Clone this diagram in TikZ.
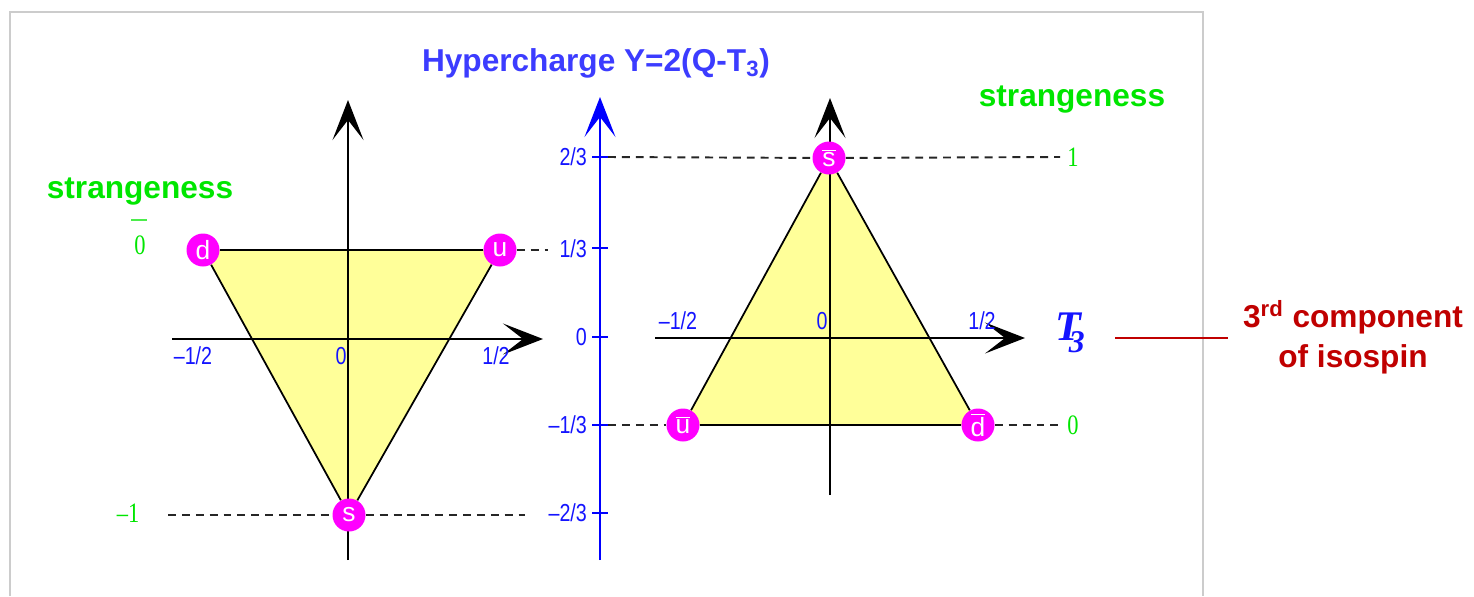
\documentclass[tikz,border=0pt]{standalone}
\usepackage{fontspec}
\setmainfont{Liberation Sans}
\newfontfamily\numfont{Liberation Serif}
\usepackage{tikz}
\usetikzlibrary{arrows.meta, backgrounds}
\definecolor{qmag}{RGB}{255,0,255}
\definecolor{tri}{RGB}{255,255,153}
\definecolor{hblue}{RGB}{60,60,255}
\definecolor{tblue}{RGB}{20,20,255}
\definecolor{sgreen}{RGB}{0,230,0}
\definecolor{isored}{RGB}{192,0,0}
\newcommand\nar[1]{\scalebox{0.8}[1]{#1}}
\newcommand\qbar[1]{$\overline{\mbox{#1}}$}

\begin{document}
\begin{tikzpicture}[x=0.02cm, y=-0.02cm,
    q/.style={circle, fill=qmag, text=white, minimum size=0.66cm, inner sep=0pt,
      font=\fontsize{15}{15}\selectfont},
    ax/.style={line width=1pt, -{Stealth[length=0.8cm, width=0.62cm, inset=0.4cm]}},
    edge/.style={line width=1pt},
    dsh/.style={line width=1.1pt, dash pattern=on 4.5pt off 3.4pt, black!85},
    tl/.style={text=tblue, font=\fontsize{14}{14}\selectfont, inner sep=1pt},
    gl/.style={text=sgreen, font=\numfont\fontsize{16}{16}\selectfont, inner sep=1pt},
    big/.style={font=\fontsize{18}{20}\selectfont\bfseries, inner sep=0pt}]
  \useasboundingbox (0,0) rectangle (1474,596);
  % frame
  \draw[black!20, line width=1.4pt] (10,596) -- (10,12) -- (1203,12) -- (1203,596);

  % quarks
  \node[q] (d) at (203,250) {d};
  \node[q] (u) at (500,250) {u};
  \node[q] (s) at (349,515) {s};
  % antiquarks
  \node[q] (sb) at (829,158) {\qbar{s}};
  \node[q] (ub) at (683,425) {\qbar{u}};
  \node[q] (db) at (978,425) {\qbar{d}};

  % axis ends
  \coordinate (lyb) at (348,560); \coordinate (lyt) at (348,100);
  \coordinate (lxl) at (172,339); \coordinate (lxr) at (543,339);
  \coordinate (myb) at (600,560); \coordinate (myt) at (600,97);
  \coordinate (ryb) at (830,495); \coordinate (ryt) at (830,98);
  \coordinate (rxl) at (655,338); \coordinate (rxr) at (1025,338);
  \coordinate (ud) at (548,250);
  \coordinate (sl) at (168,515); \coordinate (sr) at (525,515);
  \coordinate (t23) at (608,157); \coordinate (e23) at (1060,157);
  \coordinate (t13) at (608,425); \coordinate (e13) at (1058,425);

  \begin{scope}[on background layer]
    \fill[tri] (d.center) -- (u.center) -- (s.center) -- cycle;
    \fill[tri] (sb.center) -- (db.center) -- (ub.center) -- cycle;
    \draw[ax] (lyb) -- (lyt);
    \draw[ax] (lxl) -- (lxr);
    \draw[ax] (ryb) -- (ryt);
    \draw[ax] (rxl) -- (rxr);
    \draw[ax, blue, line width=1.3pt] (myb) -- (myt);
    \foreach \y in {157,248,337,425,513}
      \draw[blue, line width=1.2pt] (592,\y) -- (608,\y);
    \draw[edge] (d) -- (u) -- (s) -- (d);
    \draw[edge] (sb) -- (db) -- (ub) -- (sb);
  \end{scope}

  % dashed guides
  \draw[dsh] (u) -- (ud);
  \draw[dsh] (sl) -- (s) -- (sr);
  \draw[dsh] (t23) -- (sb) -- (e23);
  \draw[dsh] (t13) -- (ub);
  \draw[dsh] (db) -- (e13);

  % left tick labels
  \node[tl] (lm) at (193,356) {\nar{–1/2}};
  \node[tl] (l0) at (341,356) {\nar{0}};
  \node[tl] (lp) at (496,356) {\nar{1/2}};
  % right tick labels
  \node[tl] (rm) at (678,321) {\nar{–1/2}};
  \node[tl] (r0) at (822,321) {\nar{0}};
  \node[tl] (rp) at (982,321) {\nar{1/2}};
  % hypercharge labels
  \node[tl, anchor=east] (h1) at (589,157) {\nar{2/3}};
  \node[tl, anchor=east] (h2) at (589,249) {\nar{1/3}};
  \node[tl, anchor=east] (h3) at (589,337) {\nar{0}};
  \node[tl, anchor=east] (h4) at (589,425) {\nar{–1/3}};
  \node[tl, anchor=east] (h5) at (589,513) {\nar{–2/3}};

  % strangeness values
  \draw[sgreen!70, line width=0.6pt] (131,220) -- (147,220);
  \node[gl] (g0) at (140,245) {\nar{0}};
  \node[gl] (gm) at (128,513) {\nar{–1}};
  \node[gl] (g1) at (1073,157) {\nar{1}};
  \node[gl] (g2) at (1073,425) {\nar{0}};

  % titles
  \node[big, text=hblue] (hy) at (596,63) {Hypercharge Y=2(Q-T\textsubscript{3})};
  \node[big, text=sgreen] (st1) at (140,192) {strangeness};
  \node[big, text=sgreen] (st2) at (1072,100) {strangeness};
  \node[text=tblue, inner sep=0pt, font=\numfont\fontsize{24}{24}\selectfont\bfseries\itshape]
    (t3) at (1070,333) {T\kern-7pt\raisebox{-7pt}{\fontsize{18}{18}\selectfont 3}};
  \node[big, text=isored, align=center] (iso) at (1353,337)
    {3\textsuperscript{rd} component\\[3pt]of isospin};
  \coordinate (rl) at (1115,338); \coordinate (rr) at (1228,338);
  \draw[isored, line width=1.2pt] (rl) -- (rr);
\end{tikzpicture}
\end{document}
